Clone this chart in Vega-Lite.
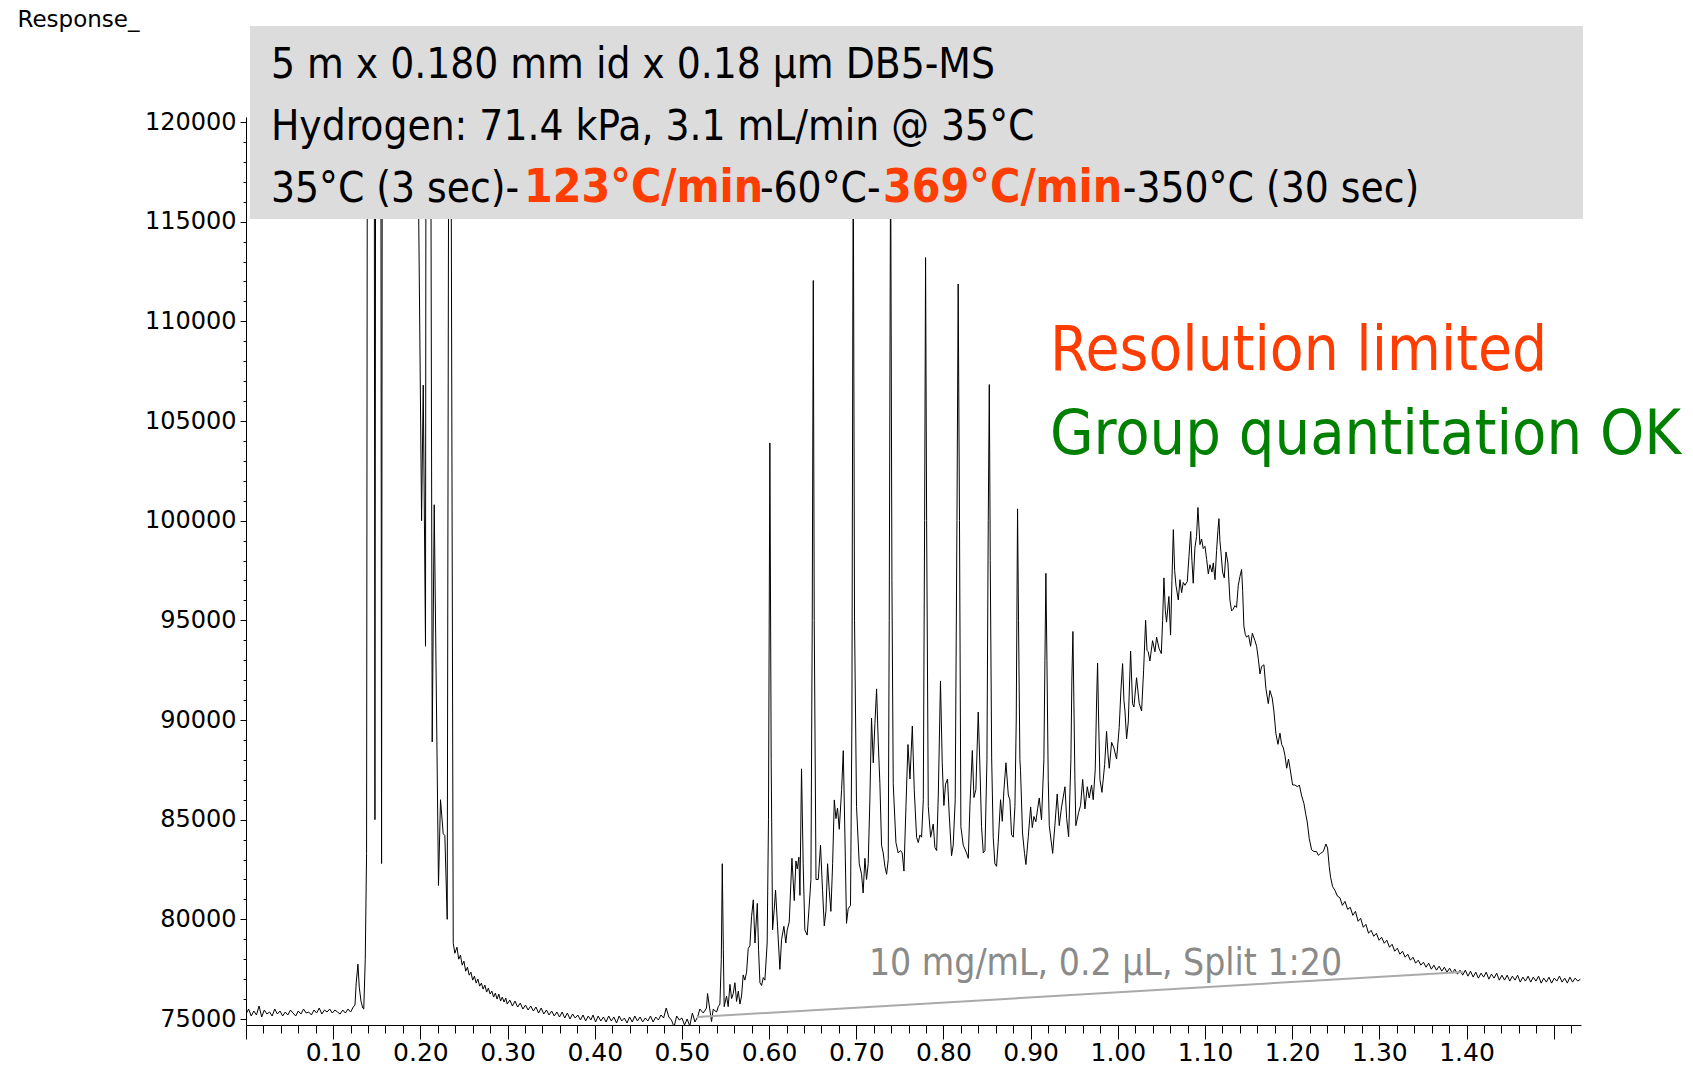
{
  "$schema": "https://vega.github.io/schema/vega-lite/v6.json",
  "autosize": {"type": "none"},
  "padding": {"left": 246, "top": 117, "right": 112, "bottom": 42},
  "width": 1335,
  "height": 908,
  "background": "white",
  "config": {"view": {"stroke": null}},
  "datasets": {
    "trace": [
      {"t":0.000,"r":75250},{"t":0.003,"r":75500},{"t":0.006,"r":75150},{"t":0.009,"r":75400},{"t":0.012,"r":75200},{"t":0.015,"r":75650},{"t":0.018,"r":75100},{"t":0.021,"r":75450},{"t":0.024,"r":75250},{"t":0.027,"r":75350},{"t":0.030,"r":75150},{"t":0.033,"r":75500},{"t":0.036,"r":75250},{"t":0.039,"r":75400},{"t":0.042,"r":75150},{"t":0.045,"r":75350},{"t":0.048,"r":75200},{"t":0.051,"r":75450},{"t":0.054,"r":75300},{"t":0.057,"r":75150},{"t":0.060,"r":75400},{"t":0.063,"r":75250},{"t":0.066,"r":75500},{"t":0.069,"r":75300},{"t":0.072,"r":75350},{"t":0.075,"r":75200},{"t":0.078,"r":75450},{"t":0.081,"r":75300},{"t":0.084,"r":75550},{"t":0.087,"r":75250},{"t":0.090,"r":75450},{"t":0.093,"r":75350},{"t":0.096,"r":75500},{"t":0.099,"r":75300},{"t":0.102,"r":75450},{"t":0.105,"r":75350},{"t":0.108,"r":75250},{"t":0.111,"r":75450},{"t":0.114,"r":75300},{"t":0.117,"r":75500},{"t":0.120,"r":75350},{"t":0.123,"r":75600},{"t":0.125,"r":75700},
      {"t":0.1264,"r":76800},{"t":0.1284,"r":77750},{"t":0.1299,"r":76600},{"t":0.1319,"r":75900},{"t":0.1339,"r":75550},{"t":0.1351,"r":75500},{"t":0.1368,"r":78000},{"t":0.1383,"r":83300},{"t":0.1395,"r":135000},{"t":0.1468,"r":135000},{"t":0.1479,"r":85000},{"t":0.1490,"r":135000},{"t":0.1544,"r":135000},{"t":0.1555,"r":82800},{"t":0.1566,"r":135000},{"t":0.1955,"r":135000},{"t":0.1960,"r":125000},{"t":0.2014,"r":100000},{"t":0.2033,"r":106800},{"t":0.2059,"r":93700},{"t":0.2067,"r":135000},{"t":0.2112,"r":135000},{"t":0.2136,"r":88900},{"t":0.2159,"r":100800},{"t":0.2208,"r":81700},{"t":0.2231,"r":86000},{"t":0.2262,"r":84300},{"t":0.2281,"r":84200},{"t":0.2308,"r":80000},{"t":0.2331,"r":135000},{"t":0.2343,"r":135000},{"t":0.2377,"r":78800},{"t":0.2396,"r":78300},
      {"t":0.2420,"r":78600},{"t":0.2440,"r":78000},{"t":0.2460,"r":78200},{"t":0.2480,"r":77700},{"t":0.2500,"r":77900},{"t":0.2520,"r":77400},{"t":0.2540,"r":77600},{"t":0.2560,"r":77200},{"t":0.2580,"r":77350},{"t":0.2600,"r":76950},{"t":0.2620,"r":77150},{"t":0.2640,"r":76800},{"t":0.2660,"r":77000},{"t":0.2680,"r":76650},{"t":0.2700,"r":76800},{"t":0.2720,"r":76500},{"t":0.2740,"r":76700},{"t":0.2760,"r":76350},{"t":0.2780,"r":76550},{"t":0.2800,"r":76250},{"t":0.2820,"r":76400},{"t":0.2840,"r":76100},{"t":0.2860,"r":76300},{"t":0.2880,"r":76000},{"t":0.2900,"r":76250},{"t":0.2920,"r":75900},{"t":0.2940,"r":76100},{"t":0.2960,"r":75850},{"t":0.2980,"r":76050},
      {"t":0.2996,"r":75750},{"t":0.3026,"r":75950},{"t":0.3056,"r":75650},{"t":0.3086,"r":75900},{"t":0.3116,"r":75600},{"t":0.3146,"r":75800},{"t":0.3176,"r":75500},{"t":0.3206,"r":75700},{"t":0.3236,"r":75450},{"t":0.3266,"r":75650},{"t":0.3296,"r":75400},{"t":0.3326,"r":75600},{"t":0.3356,"r":75300},{"t":0.3386,"r":75550},{"t":0.3416,"r":75250},{"t":0.3446,"r":75450},{"t":0.3476,"r":75200},{"t":0.3506,"r":75400},{"t":0.3536,"r":75150},{"t":0.3566,"r":75350},{"t":0.3596,"r":75100},{"t":0.3626,"r":75350},{"t":0.3656,"r":75050},{"t":0.3686,"r":75300},{"t":0.3716,"r":75000},{"t":0.3746,"r":75250},{"t":0.3776,"r":75050},{"t":0.3806,"r":75200},{"t":0.3836,"r":74950},{"t":0.3866,"r":75200},{"t":0.3896,"r":74900},{"t":0.3926,"r":75150},{"t":0.3956,"r":74950},
      {"t":0.3980,"r":75200},{"t":0.4010,"r":74850},{"t":0.4040,"r":75150},{"t":0.4070,"r":74900},{"t":0.4100,"r":75100},{"t":0.4130,"r":74850},{"t":0.4160,"r":75150},{"t":0.4190,"r":74900},{"t":0.4220,"r":75100},{"t":0.4250,"r":74800},{"t":0.4280,"r":75150},{"t":0.4310,"r":74900},{"t":0.4340,"r":75050},{"t":0.4370,"r":74800},{"t":0.4400,"r":75100},{"t":0.4430,"r":74850},{"t":0.4460,"r":75150},{"t":0.4490,"r":74900},{"t":0.4520,"r":75100},{"t":0.4550,"r":74850},{"t":0.4580,"r":75050},{"t":0.4610,"r":74900},{"t":0.4640,"r":75150},{"t":0.4670,"r":74850},{"t":0.4700,"r":75100},{"t":0.4730,"r":74950},{"t":0.4760,"r":75200},{"t":0.4790,"r":75050},{"t":0.4820,"r":75550},{"t":0.4850,"r":75100},{"t":0.4880,"r":74950},{"t":0.4910,"r":74600},{"t":0.4940,"r":75150},{"t":0.4970,"r":74950},{"t":0.5000,"r":75050},{"t":0.5030,"r":74700},{"t":0.5060,"r":75000},{"t":0.5090,"r":74650},{"t":0.5120,"r":75300},{"t":0.5150,"r":74850},{"t":0.5180,"r":75100},
      {"t":0.5206,"r":75500},{"t":0.5245,"r":75300},{"t":0.5282,"r":75550},{"t":0.5294,"r":76280},{"t":0.5321,"r":75450},{"t":0.5340,"r":74870},{"t":0.5359,"r":75490},{"t":0.5398,"r":75350},{"t":0.5417,"r":75620},{"t":0.5436,"r":75750},{"t":0.5452,"r":78000},{"t":0.5463,"r":82790},{"t":0.5475,"r":78500},{"t":0.5485,"r":75620},{"t":0.5512,"r":76150},{"t":0.5531,"r":75620},{"t":0.5551,"r":76740},{"t":0.5570,"r":76020},{"t":0.5589,"r":76280},{"t":0.5608,"r":76820},{"t":0.5627,"r":75880},{"t":0.5647,"r":76400},{"t":0.5666,"r":75750},{"t":0.5684,"r":76150},{"t":0.5703,"r":77210},{"t":0.5722,"r":76950},{"t":0.5742,"r":77350},{"t":0.5761,"r":78540},{"t":0.5780,"r":78670},{"t":0.5799,"r":80130},{"t":0.5819,"r":80980},{"t":0.5838,"r":78810},{"t":0.5865,"r":80800},{"t":0.5879,"r":78500},{"t":0.5895,"r":76820},{"t":0.5914,"r":76680},{"t":0.5933,"r":77080},{"t":0.5952,"r":76950},{"t":0.5978,"r":78810},{"t":0.5993,"r":85000},{"t":0.6009,"r":103900},{"t":0.6024,"r":88000},{"t":0.6040,"r":79470},{"t":0.6059,"r":80500},{"t":0.6074,"r":81470},{"t":0.6097,"r":79650},{"t":0.6124,"r":77490},{"t":0.6143,"r":78980},{"t":0.6170,"r":79650},{"t":0.6192,"r":78810},{"t":0.6208,"r":79470},{"t":0.6231,"r":79870},{"t":0.6262,"r":83060},{"t":0.6289,"r":80940},{"t":0.6308,"r":82930},{"t":0.6323,"r":82530},{"t":0.6342,"r":83120},{"t":0.6354,"r":81200},{"t":0.6372,"r":87550},{"t":0.6391,"r":82790},{"t":0.6410,"r":79470},{"t":0.6437,"r":79210},{"t":0.6460,"r":80670},{"t":0.6480,"r":81990},{"t":0.6495,"r":95000},{"t":0.6507,"r":112050},{"t":0.6518,"r":95000},{"t":0.6538,"r":82000},{"t":0.6564,"r":82000},{"t":0.6590,"r":83720},{"t":0.6613,"r":81460},{"t":0.6633,"r":79670},{"t":0.6652,"r":80410},{"t":0.6671,"r":82790},{"t":0.6690,"r":81460},{"t":0.6709,"r":80400},{"t":0.6729,"r":82790},{"t":0.6748,"r":85990},{"t":0.6767,"r":85050},{"t":0.6785,"r":85580},{"t":0.6805,"r":84520},{"t":0.6832,"r":86510},{"t":0.6851,"r":88460},{"t":0.6869,"r":84380},{"t":0.6888,"r":79800},{"t":0.6907,"r":80530},{"t":0.6934,"r":80700},{"t":0.6950,"r":90000},{"t":0.6965,"r":119000},{"t":0.6980,"r":95000},{"t":0.7003,"r":85660},{"t":0.7034,"r":82790},{"t":0.7061,"r":82260},{"t":0.7079,"r":81320},{"t":0.7099,"r":83060},{"t":0.7118,"r":82000},{"t":0.7137,"r":82790},{"t":0.7156,"r":85990},{"t":0.7175,"r":90100},{"t":0.7195,"r":87850},{"t":0.7214,"r":89830},{"t":0.7233,"r":91560},{"t":0.7252,"r":88900},{"t":0.7271,"r":86800},{"t":0.7290,"r":83720},{"t":0.7309,"r":83330},{"t":0.7328,"r":82660},{"t":0.7348,"r":82260},{"t":0.7367,"r":83000},{"t":0.7378,"r":95000},{"t":0.7394,"r":119000},{"t":0.7409,"r":97000},{"t":0.7424,"r":86800},{"t":0.7455,"r":83850},{"t":0.7481,"r":83330},{"t":0.7508,"r":83450},{"t":0.7527,"r":83330},{"t":0.7547,"r":82420},{"t":0.7570,"r":85660},{"t":0.7593,"r":88770},{"t":0.7616,"r":87040},{"t":0.7643,"r":89700},{"t":0.7665,"r":86500},{"t":0.7692,"r":84120},{"t":0.7711,"r":83850},{"t":0.7730,"r":84230},{"t":0.7749,"r":84120},{"t":0.7769,"r":86000},{"t":0.7784,"r":100000},{"t":0.7795,"r":113200},{"t":0.7807,"r":100000},{"t":0.7826,"r":85660},{"t":0.7853,"r":84120},{"t":0.7883,"r":84780},{"t":0.7902,"r":83600},{"t":0.7922,"r":83450},{"t":0.7941,"r":86240},{"t":0.7966,"r":91960},{"t":0.7986,"r":87850},{"t":0.8005,"r":85710},{"t":0.8024,"r":86780},{"t":0.8047,"r":87040},{"t":0.8067,"r":85180},{"t":0.8093,"r":83190},{"t":0.8112,"r":83720},{"t":0.8135,"r":86000},{"t":0.8155,"r":100000},{"t":0.8169,"r":111870},{"t":0.8184,"r":100000},{"t":0.8200,"r":84650},{"t":0.8227,"r":83720},{"t":0.8265,"r":83330},{"t":0.8285,"r":83060},{"t":0.8304,"r":85720},{"t":0.8331,"r":88470},{"t":0.8350,"r":86110},{"t":0.8372,"r":86510},{"t":0.8399,"r":90400},{"t":0.8418,"r":87700},{"t":0.8437,"r":84650},{"t":0.8457,"r":83330},{"t":0.8476,"r":83450},{"t":0.8499,"r":88000},{"t":0.8514,"r":100000},{"t":0.8526,"r":106830},{"t":0.8537,"r":98000},{"t":0.8553,"r":88100},{"t":0.8571,"r":84120},{"t":0.8590,"r":82790},{"t":0.8609,"r":82660},{"t":0.8628,"r":83850},{"t":0.8655,"r":86000},{"t":0.8675,"r":84920},{"t":0.8694,"r":86500},{"t":0.8717,"r":87850},{"t":0.8744,"r":86240},{"t":0.8762,"r":85990},{"t":0.8781,"r":84250},{"t":0.8801,"r":84120},{"t":0.8820,"r":85660},{"t":0.8835,"r":90000},{"t":0.8850,"r":100590},
      {"t":0.8861,"r":95000},{"t":0.8877,"r":88000},{"t":0.8884,"r":87480},{"t":0.8907,"r":84330},{"t":0.8930,"r":83300},{"t":0.8946,"r":82750},{"t":0.8973,"r":84140},{"t":0.9000,"r":85640},{"t":0.9019,"r":84600},{"t":0.9038,"r":85160},{"t":0.9060,"r":84900},{"t":0.9080,"r":85540},{"t":0.9099,"r":86090},{"t":0.9125,"r":84980},{"t":0.9152,"r":88000},{"t":0.9164,"r":93000},{"t":0.9175,"r":97360},{"t":0.9187,"r":93000},{"t":0.9202,"r":87000},{"t":0.9214,"r":84700},{"t":0.9253,"r":83310},{"t":0.9278,"r":84700},{"t":0.9305,"r":86290},{"t":0.9328,"r":84700},{"t":0.9355,"r":85640},{"t":0.9394,"r":86650},{"t":0.9413,"r":85070},{"t":0.9436,"r":84140},{"t":0.9462,"r":88000},{"t":0.9473,"r":92000},{"t":0.9485,"r":94440},{"t":0.9496,"r":91000},{"t":0.9508,"r":87000},{"t":0.9519,"r":84700},{"t":0.9550,"r":85350},{"t":0.9573,"r":85720},{"t":0.9597,"r":87020},{"t":0.9623,"r":85540},{"t":0.9650,"r":86650},{"t":0.9672,"r":86090},{"t":0.9699,"r":86740},{"t":0.9718,"r":86000},{"t":0.9741,"r":87500},{"t":0.9757,"r":91000},{"t":0.9768,"r":92860},{"t":0.9780,"r":90000},{"t":0.9795,"r":87020},{"t":0.9818,"r":86370},{"t":0.9849,"r":87760},{"t":0.9871,"r":89430},{"t":0.9887,"r":88300},{"t":0.9902,"r":87580},{"t":0.9929,"r":88880},{"t":0.9955,"r":88600},{"t":0.9986,"r":88040},{"t":1.0016,"r":89620},{"t":1.0036,"r":91500},{"t":1.0055,"r":92830},{"t":1.0070,"r":91000},{"t":1.0082,"r":90450},{"t":1.0101,"r":89060},{"t":1.0120,"r":89900},{"t":1.0147,"r":93460},{"t":1.0169,"r":90820},{"t":1.0185,"r":90650},{"t":1.0215,"r":92120},{"t":1.0246,"r":90820},{"t":1.0273,"r":90450},{"t":1.0296,"r":92500},{"t":1.0319,"r":95000},{"t":1.0335,"r":93500},{"t":1.0349,"r":93420},{"t":1.0368,"r":92960},{"t":1.0399,"r":93980},{"t":1.0426,"r":93420},{"t":1.0445,"r":94160},{"t":1.0472,"r":93600},{"t":1.0499,"r":93330},{"t":1.0514,"r":95000},{"t":1.0529,"r":97130},{"t":1.0545,"r":95500},{"t":1.0559,"r":94910},{"t":1.0586,"r":96200},{"t":1.0605,"r":94260},{"t":1.0621,"r":97000},{"t":1.0637,"r":99550},{"t":1.0652,"r":97500},{"t":1.0667,"r":96760},{"t":1.0694,"r":96020},{"t":1.0713,"r":97040},{"t":1.0732,"r":96390},{"t":1.0751,"r":96900},{"t":1.0770,"r":96760},{"t":1.0797,"r":96950},{"t":1.0816,"r":98200},{"t":1.0836,"r":99460},{"t":1.0850,"r":98000},{"t":1.0865,"r":96860},{"t":1.0884,"r":98620},{"t":1.0903,"r":99200},{"t":1.0919,"r":100660},{"t":1.0942,"r":98800},{"t":1.0961,"r":99080},{"t":1.0980,"r":98600},{"t":1.1000,"r":98710},{"t":1.1019,"r":98060},{"t":1.1038,"r":97330},{"t":1.1057,"r":97790},{"t":1.1080,"r":97420},{"t":1.1095,"r":97880},{"t":1.1115,"r":97040},{"t":1.1133,"r":98500},{"t":1.1148,"r":99500},{"t":1.1160,"r":100100},{"t":1.1171,"r":99000},{"t":1.1183,"r":98430},{"t":1.1202,"r":97420},{"t":1.1221,"r":97130},{"t":1.1241,"r":98430},{"t":1.1263,"r":97880},{"t":1.1286,"r":96020},{"t":1.1305,"r":95470},{"t":1.1324,"r":95560},{"t":1.1343,"r":95740},{"t":1.1362,"r":95650},{"t":1.1382,"r":96760},{"t":1.1401,"r":97200},{"t":1.1420,"r":97550},{"t":1.1432,"r":96500},{"t":1.1446,"r":94720},{"t":1.1462,"r":94300},{"t":1.1477,"r":94160},{"t":1.1500,"r":94250},{"t":1.1523,"r":93700},{"t":1.1543,"r":94350},{"t":1.1573,"r":93980},{"t":1.1592,"r":93700},{"t":1.1612,"r":93050},{"t":1.1631,"r":92310},{"t":1.1649,"r":92680},{"t":1.1676,"r":92770},{"t":1.1699,"r":91570},{"t":1.1726,"r":90820},{"t":1.1745,"r":91480},{"t":1.1771,"r":91100},{"t":1.1790,"r":90450},{"t":1.1813,"r":89340},{"t":1.1837,"r":88780},{"t":1.1860,"r":89340},{"t":1.1879,"r":88780},{"t":1.1899,"r":88600},{"t":1.1917,"r":88230},{"t":1.1937,"r":87580},{"t":1.1958,"r":88040},{"t":1.1982,"r":87390},{"t":1.2005,"r":86740},{"t":1.2031,"r":86740},{"t":1.2062,"r":86650},{"t":1.2082,"r":86740},{"t":1.2109,"r":86190},{"t":1.2135,"r":85810},{"t":1.2157,"r":85250},{"t":1.2173,"r":84880},{"t":1.2196,"r":84050},{"t":1.2223,"r":83490},{"t":1.2250,"r":83400},{"t":1.2280,"r":83400},{"t":1.2300,"r":83210},{"t":1.2326,"r":83310},{"t":1.2357,"r":83400},{"t":1.2387,"r":83780},{"t":1.2406,"r":83580},{"t":1.2425,"r":82650},{"t":1.2441,"r":82100},{"t":1.2464,"r":81640},{"t":1.2491,"r":81450},{"t":1.2518,"r":81170},{"t":1.2548,"r":81080},
      {"t":1.2576,"r":80700},{"t":1.2606,"r":80900},{"t":1.2636,"r":80500},{"t":1.2666,"r":80600},{"t":1.2696,"r":80200},{"t":1.2726,"r":80400},{"t":1.2756,"r":79900},{"t":1.2786,"r":80050},{"t":1.2816,"r":79600},{"t":1.2846,"r":79750},{"t":1.2876,"r":79300},{"t":1.2906,"r":79450},{"t":1.2936,"r":79150},{"t":1.2966,"r":79300},{"t":1.2996,"r":78950},{"t":1.3026,"r":79100},{"t":1.3056,"r":78800},{"t":1.3086,"r":78950},{"t":1.3116,"r":78600},{"t":1.3146,"r":78750},{"t":1.3176,"r":78400},{"t":1.3206,"r":78550},{"t":1.3236,"r":78250},{"t":1.3266,"r":78400},{"t":1.3296,"r":78100},{"t":1.3326,"r":78250},{"t":1.3356,"r":77950},{"t":1.3386,"r":78100},{"t":1.3416,"r":77800},{"t":1.3446,"r":77950},{"t":1.3476,"r":77700},{"t":1.3506,"r":77850},{"t":1.3536,"r":77600},{"t":1.3566,"r":77800},{"t":1.3596,"r":77500},{"t":1.3626,"r":77700},{"t":1.3656,"r":77450},{"t":1.3686,"r":77650},{"t":1.3716,"r":77400},{"t":1.3746,"r":77600},{"t":1.3776,"r":77350},{"t":1.3806,"r":77550},{"t":1.3836,"r":77300},{"t":1.3866,"r":77500},{"t":1.3896,"r":77250},{"t":1.3926,"r":77450},{"t":1.3956,"r":77200},{"t":1.3986,"r":77450},{"t":1.4016,"r":77150},{"t":1.4046,"r":77400},{"t":1.4076,"r":77100},{"t":1.4106,"r":77350},{"t":1.4136,"r":77050},{"t":1.4166,"r":77300},{"t":1.4196,"r":77100},{"t":1.4226,"r":77350},{"t":1.4256,"r":77000},{"t":1.4286,"r":77250},{"t":1.4316,"r":77050},{"t":1.4346,"r":77300},{"t":1.4376,"r":76950},{"t":1.4406,"r":77200},{"t":1.4436,"r":76950},{"t":1.4466,"r":77200},{"t":1.4496,"r":76900},{"t":1.4526,"r":77150},{"t":1.4556,"r":76950},{"t":1.4586,"r":77200},{"t":1.4616,"r":76850},{"t":1.4646,"r":77100},{"t":1.4676,"r":76900},{"t":1.4706,"r":77150},{"t":1.4736,"r":76850},{"t":1.4766,"r":77100},{"t":1.4796,"r":76900},{"t":1.4826,"r":77150},{"t":1.4856,"r":76800},{"t":1.4886,"r":77050},{"t":1.4916,"r":76850},{"t":1.4946,"r":77100},{"t":1.4976,"r":76800},{"t":1.5006,"r":77050},{"t":1.5036,"r":76900},{"t":1.5066,"r":77150},{"t":1.5096,"r":76850},{"t":1.5126,"r":77050},{"t":1.5156,"r":76800},{"t":1.5186,"r":77100},{"t":1.5216,"r":76850},{"t":1.5246,"r":77050},{"t":1.5276,"r":76900},{"t":1.5306,"r":77000}
    ],
    "box": [{"t":0.0045,"t2":1.5335,"r":115134,"r2":124817}],
    "note_line": [{"t":0.5172,"r":75100,"t2":1.3958,"r2":77358}],
    "info_plain": [
      {"t":0.0286,"r":122208,"label":"5 m x 0.180 mm id x 0.18 µm DB5-MS"},
      {"t":0.0286,"r":119098,"label":"Hydrogen: 71.4 kPa, 3.1 mL/min @ 35°C"},
      {"t":0.0286,"r":115987,"label":"35°C (3 sec)-"},
      {"t":0.5895,"r":115987,"label":"-60°C-"},
      {"t":1.0058,"r":115987,"label":"-350°C (30 sec)"}
    ],
    "info_bold": [
      {"t":0.3188,"r":115987,"label":"123°C/min"},
      {"t":0.7306,"r":115987,"label":"369°C/min"}
    ],
    "red": [{"t":0.9221,"r":107559,"label":"Resolution limited"}],
    "green": [{"t":0.9221,"r":103345,"label":"Group quantitation OK"}],
    "note": [{"t":0.7145,"r":77207,"label":"10 mg/mL, 0.2 µL, Split 1:20"}]
  },
  "encoding": {
    "x": {
      "field": "t", "type": "quantitative",
      "scale": {"domain": [0, 1.5313], "nice": false, "zero": false},
      "axis": {
        "title": null, "orient": "bottom", "grid": false,
        "values": [0,0.02,0.04,0.06,0.08,0.1,0.12,0.14,0.16,0.18,0.2,0.22,0.24,0.26,0.28,0.3,0.32,0.34,0.36,0.38,0.4,0.42,0.44,0.46,0.48,0.5,0.52,0.54,0.56,0.58,0.6,0.62,0.64,0.66,0.68,0.7,0.72,0.74,0.76,0.78,0.8,0.82,0.84,0.86,0.88,0.9,0.92,0.94,0.96,0.98,1,1.02,1.04,1.06,1.08,1.1,1.12,1.14,1.16,1.18,1.2,1.22,1.24,1.26,1.28,1.3,1.32,1.34,1.36,1.38,1.4,1.42,1.44,1.46,1.48,1.5,1.52],
        "labelExpr": "(abs(datum.value*10 - round(datum.value*10)) < 0.001 && datum.value > 0.05 && datum.value < 1.45) ? format(datum.value, '.2f') : ''",
        "tickSize": {"condition": {"test": "abs(datum.value*10 - round(datum.value*10)) < 0.001", "value": 14}, "value": 8},
        "tickColor": "black", "tickWidth": 1,
        "domainColor": "black", "domainWidth": 1,
        "labelFont": "DejaVu Sans", "labelFontSize": 25, "labelColor": "black",
        "labelPadding": 1, "labelOverlap": false, "labelFlush": false, "labelBound": false
      }
    },
    "y": {
      "field": "r", "type": "quantitative",
      "scale": {"domain": [74699, 120251], "nice": false, "zero": false},
      "axis": {
        "orient": "left", "grid": false,
        "values": [75000,76000,77000,78000,79000,80000,81000,82000,83000,84000,85000,86000,87000,88000,89000,90000,91000,92000,93000,94000,95000,96000,97000,98000,99000,100000,101000,102000,103000,104000,105000,106000,107000,108000,109000,110000,111000,112000,113000,114000,115000,116000,117000,118000,119000,120000],
        "labelExpr": "datum.value % 5000 === 0 ? format(datum.value, 'd') : ''",
        "tickSize": {"condition": {"test": "datum.value % 5000 === 0", "value": 6}, "value": 3},
        "tickColor": "black", "tickWidth": 1,
        "domainColor": "black", "domainWidth": 1,
        "labelFont": "DejaVu Sans", "labelFontSize": 24, "labelColor": "black",
        "labelPadding": 4, "labelOverlap": false, "labelBound": false,
        "title": "Response_", "titleAngle": 0, "titleAlign": "left", "titleBaseline": "alphabetic",
        "titleX": -229, "titleY": -91, "titleFont": "DejaVu Sans", "titleFontSize": 23,
        "titleFontWeight": "normal", "titleColor": "black"
      }
    }
  },
  "layer": [
    {
      "data": {"name": "trace"},
      "mark": {"type": "line", "color": "black", "strokeWidth": 1, "clip": true, "interpolate": "linear"}
    },
    {
      "data": {"name": "note_line"},
      "mark": {"type": "rule", "color": "#aaaaaa", "strokeWidth": 2},
      "encoding": {"x2": {"field": "t2"}, "y2": {"field": "r2"}}
    },
    {
      "data": {"name": "box"},
      "mark": {"type": "rect", "color": "#dcdcdc", "opacity": 1},
      "encoding": {"x2": {"field": "t2"}, "y2": {"field": "r2"}}
    },
    {
      "data": {"name": "info_plain"},
      "mark": {"type": "text", "align": "left", "baseline": "alphabetic", "font": "DejaVu Sans Condensed", "fontSize": 42, "color": "black"},
      "encoding": {"text": {"field": "label"}}
    },
    {
      "data": {"name": "info_bold"},
      "mark": {"type": "text", "align": "left", "baseline": "alphabetic", "font": "DejaVu Sans Condensed", "fontSize": 46, "fontWeight": "bold", "color": "#ff3d00"},
      "encoding": {"text": {"field": "label"}}
    },
    {
      "data": {"name": "red"},
      "mark": {"type": "text", "align": "left", "baseline": "alphabetic", "font": "DejaVu Sans Condensed", "fontSize": 61.5, "color": "#ff3d00"},
      "encoding": {"text": {"field": "label"}}
    },
    {
      "data": {"name": "green"},
      "mark": {"type": "text", "align": "left", "baseline": "alphabetic", "font": "DejaVu Sans Condensed", "fontSize": 62.5, "color": "#008000"},
      "encoding": {"text": {"field": "label"}}
    },
    {
      "data": {"name": "note"},
      "mark": {"type": "text", "align": "left", "baseline": "alphabetic", "font": "DejaVu Sans Condensed", "fontSize": 37, "color": "#8a8a8a"},
      "encoding": {"text": {"field": "label"}}
    }
  ]
}
